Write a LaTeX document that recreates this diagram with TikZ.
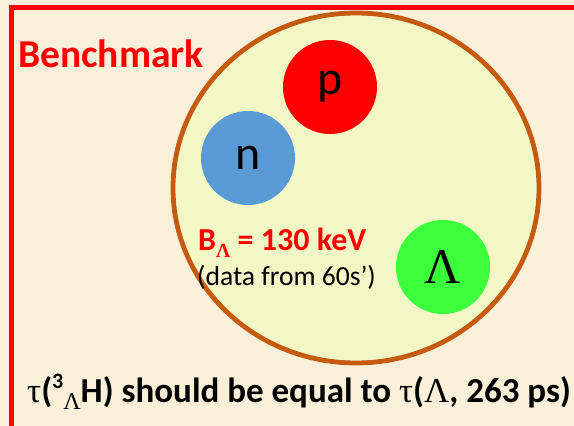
\documentclass[tikz,border=0pt]{standalone}
\usepackage{fontspec}
\setmainfont{Carlito}
\newfontfamily\grk{Liberation Serif}
\usetikzlibrary{shapes.geometric}
\definecolor{bgc}{RGB}{250,240,218}
\definecolor{nucfill}{RGB}{242,247,197}
\definecolor{nucline}{RGB}{197,90,17}
\definecolor{pcol}{RGB}{255,0,0}
\definecolor{ncol}{RGB}{91,155,213}
\definecolor{lcol}{RGB}{60,255,60}
\tikzset{
  particle/.style={circle, inner sep=0pt, minimum size=94pt, font=\fontsize{48}{48}\selectfont},
  lbl/.style={anchor=base west, inner sep=0pt}
}
\begin{document}
\begin{tikzpicture}[x=1pt,y=-1pt]
\useasboundingbox (0,0) rectangle (574,426);
\fill[bgc] (0,0) rectangle (574,426);
\draw[red, line width=5pt] (11,440) -- (11,7.5) -- (590,7.5);
\node[ellipse, draw=nucline, fill=nucfill, line width=4.8pt, minimum width=366pt, minimum height=350pt, inner sep=0pt] (nuc) at (356,188) {};
\node[particle, fill=pcol] (p) at (330,87) {p};
\node[particle, fill=ncol] (n) at (248,158) {n};
\node[particle, fill=lcol, font=\grk\fontsize{50}{50}\selectfont] (lam) at (443,267) {Λ};
\node[lbl, text=red, font=\bfseries\fontsize{39.5}{39.5}\selectfont] (bench) at (18,67) {Benchmark};
\node[lbl, text=red, font=\bfseries\fontsize{32}{32}\selectfont] (bl) at (198,250) {B\raisebox{-0.22em}{\grk\bfseries\fontsize{20}{20}\selectfont Λ} = 130 keV};
\node[lbl, font=\fontsize{27.6}{27.6}\selectfont] (data) at (197,285) {(data from 60s’)};
\node[lbl, font=\bfseries\fontsize{35}{35}\selectfont] (tau) at (27,402) {{\grk\mdseries τ}(\raisebox{0.38em}{\fontsize{22}{22}\selectfont 3}\raisebox{-0.2em}{\grk\mdseries\fontsize{24}{24}\selectfont Λ}H) should be equal to {\grk\mdseries τ}({\grk\mdseries Λ}, 263 ps)};
\end{tikzpicture}
\end{document}
